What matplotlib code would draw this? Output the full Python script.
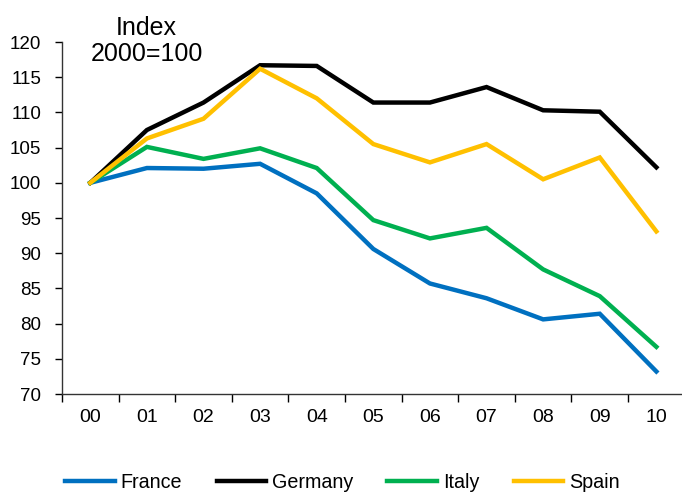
import matplotlib
matplotlib.use("Agg")
import matplotlib.pyplot as plt

years = ["00", "01", "02", "03", "04", "05", "06", "07", "08", "09", "10"]
france = [100, 102.1, 102.0, 102.7, 98.5, 90.6, 85.7, 83.6, 80.6, 81.4, 73.2]
germany = [100, 107.5, 111.4, 116.7, 116.6, 111.4, 111.4, 113.6, 110.3, 110.1, 102.2]
italy = [100, 105.1, 103.4, 104.9, 102.1, 94.7, 92.1, 93.6, 87.7, 83.9, 76.7]
spain = [100, 106.3, 109.1, 116.2, 112.0, 105.5, 102.9, 105.5, 100.5, 103.6, 93.1]
yticks = [70, 75, 80, 85, 90, 95, 100, 105, 110, 115, 120]

plt.rcParams['font.family'] = ['Liberation Sans', 'DejaVu Sans']

fig = plt.figure(figsize=(6.82, 4.93), dpi=100)
ax = fig.add_axes([0.0909, 0.2008, 0.913, 0.714])

x = list(range(len(years)))
series = [("France", france, "#0070C0"), ("Germany", germany, "#000000"),
          ("Italy", italy, "#00B050"), ("Spain", spain, "#FFC000")]
for name, vals, col in series:
    ax.plot(x, vals, color=col, lw=3.2, label=name, solid_joinstyle='miter')

ax.set_xlim(-0.5, len(years) - 0.5)
ax.set_ylim(70, 120)
ax.set_yticks(yticks)
ax.set_yticklabels([str(v) for v in yticks], fontsize=13.5)
ax.set_xticks(x)
ax.set_xticklabels(years, fontsize=14)
ax.set_xticks([i - 0.5 for i in range(len(years) + 1)], minor=True)
ax.tick_params(axis='x', which='major', length=0, pad=11)
ax.tick_params(axis='x', which='minor', length=6, direction='out', width=1)
ax.tick_params(axis='y', length=5, direction='out', width=1, pad=10)
for s in ['top', 'right']:
    ax.spines[s].set_visible(False)
for s in ['left', 'bottom']:
    ax.spines[s].set_linewidth(1.0)
    ax.spines[s].set_color('#333333')

fig.text(0.215, 0.876, "Index\n2000=100", ha='center', va='baseline',
         multialignment='center', fontsize=18, linespacing=1.12)

fig.legend(loc='center', bbox_to_anchor=(0.502, 0.022), ncol=4, frameon=False,
           fontsize=14.2, handlelength=2.5, handletextpad=0.3, columnspacing=1.75)

fig.savefig("out.png", dpi=100)
